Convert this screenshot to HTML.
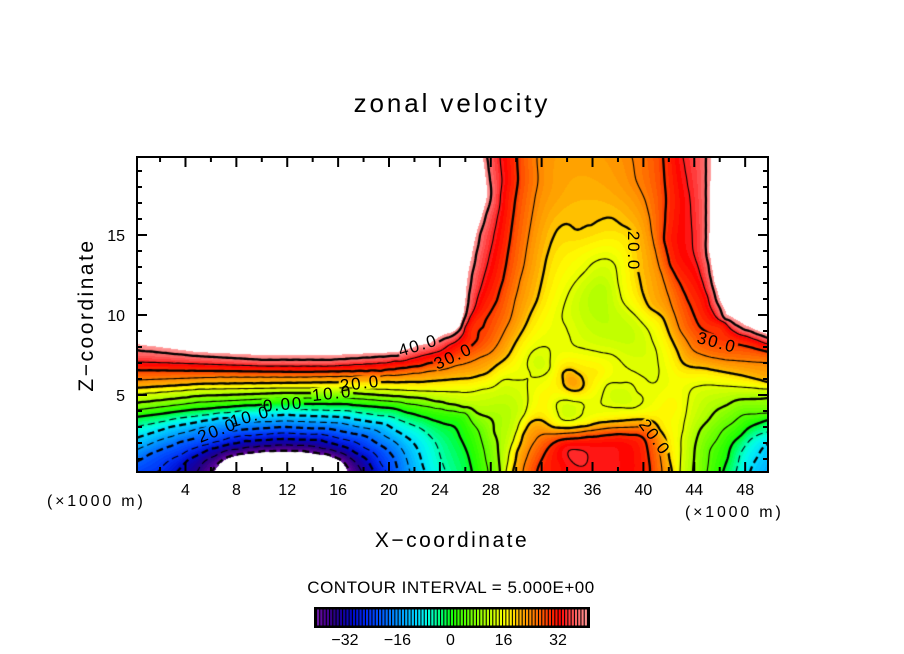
<!DOCTYPE html>
<html><head><meta charset="utf-8">
<style>
html,body{margin:0;padding:0;background:#fff;}
body{width:904px;height:654px;position:relative;overflow:hidden;}
#c{position:absolute;left:137px;top:157px;}
svg{position:absolute;left:0;top:0;}
text{font-family:"Liberation Sans",sans-serif;fill:#000;}
</style></head><body>
<canvas id="c" width="631" height="315"></canvas>
<svg id="s" width="904" height="654" viewBox="0 0 904 654">
<g id="cb"></g>
<rect x="137" y="157" width="631" height="315" fill="none" stroke="#000" stroke-width="2"/>
<path id="ticks" d="" stroke="#000" stroke-width="2" fill="none"/>
<text x="452" y="112" font-size="26" text-anchor="middle" letter-spacing="2.9">zonal velocity</text>
<text x="452" y="547" font-size="21" text-anchor="middle" letter-spacing="2.5">X−coordinate</text>
<text transform="translate(93,315) rotate(-90)" font-size="21" text-anchor="middle" letter-spacing="2.5">Z−coordinate</text>
<g font-size="16" text-anchor="middle">
<text x="185.5" y="495">4</text><text x="236.4" y="495">8</text><text x="287.2" y="495">12</text>
<text x="338.1" y="495">16</text><text x="389" y="495">20</text><text x="439.9" y="495">24</text>
<text x="490.8" y="495">28</text><text x="541.6" y="495">32</text><text x="592.5" y="495">36</text>
<text x="643.4" y="495">40</text><text x="694.3" y="495">44</text><text x="745.2" y="495">48</text>
</g>
<g font-size="16" text-anchor="end">
<text x="125" y="401">5</text><text x="125" y="321">10</text><text x="125" y="241">15</text>
</g>
<text x="47" y="506" font-size="16" letter-spacing="2.8">(×1000 m)</text>
<text x="685" y="517" font-size="16" letter-spacing="2.8">(×1000 m)</text>
<text x="451" y="593" font-size="17" text-anchor="middle" letter-spacing="0.5">CONTOUR INTERVAL = 5.000E+00</text>
<g font-size="16" text-anchor="middle">
<text x="345" y="645">−32</text><text x="397.5" y="645">−16</text><text x="450.5" y="645">0</text>
<text x="503.5" y="645">16</text><text x="558" y="645">32</text>
</g>
<g font-size="17" text-anchor="middle" letter-spacing="1.8" id="labels">
<text transform="translate(418,345) rotate(-17)" dy="6">40.0</text>
<text transform="translate(453,356) rotate(-25)" dy="6">30.0</text>
<text transform="translate(360,383) rotate(-7)" dy="6">20.0</text>
<text transform="translate(332,393) rotate(-6)" dy="6">10.0</text>
<text transform="translate(283,404) rotate(-5)" dy="6">0.00</text>
<text transform="translate(250,416) rotate(-16)" dy="6">10.0</text>
<text transform="translate(217,430) rotate(-21)" dy="6">20.0</text>
<text transform="translate(634,251) rotate(90)" dy="6">20.0</text>
<text transform="translate(717,342) rotate(15)" dy="6">30.0</text>
<text transform="translate(655,437) rotate(53)" dy="6">20.0</text>
</g>
</svg>
<script>
(function(){
var LINES=[
[42.5,[[136,344],[197,352],[263,355],[330,355],[397,352],[430,343],[445,334],[460,325],[464,310],[466,295],[468,275],[472,255],[476,235],[482,215],[487,195],[486,180],[483,157]]],
[40,[[136,350],[197,356],[263,360],[330,360],[397,356],[417,349],[432,345],[450,337],[461,328],[466,315],[469,295],[472,275],[476,255],[480,235],[486,215],[491,197],[490,180],[487,157]]],
[35,[[136,362],[200,364],[263,366],[330,366],[380,363],[410,359],[440,351],[460,338],[470,317],[477,300],[483,280],[488,262],[493,240],[499,210],[502,180],[500,157]]],
[30,[[136,370],[220,371],[300,372],[380,371],[420,366],[450,358],[470,347],[477,340],[490,313],[497,300],[503,280],[506,265],[510,240],[514,210],[518,180],[517,157]]],
[25,[[136,380],[220,377],[300,377],[400,375],[440,370],[470,362],[490,353],[500,340],[510,320],[515,300],[520,280],[524,265],[528,240],[533,210],[538,180],[537,157]]],
[20,[[136,388],[200,384],[282,383],[360,382],[420,382],[470,378],[487,373],[507,357],[523,330],[537,300],[542,280],[546,260],[551,243],[557,230],[565,224],[577,230],[587,217],[592,225],[600,220],[612,218],[622,225],[632,232],[636,250],[638,270],[642,290],[650,308],[663,318],[672,340],[683,363],[703,368],[740,375],[768,382]]],
[15,[[136,394],[200,389],[282,388],[350,388],[420,391],[470,392],[493,387],[503,380],[513,380],[523,380],[527,378],[528,400],[524,415],[517,430],[510,450],[506,472]]],
[10,[[136,403],[200,396],[282,393],[350,393],[420,398],[463,407],[490,418],[494,432],[498,450],[500,472]]],
[5,[[136,410],[200,402],[282,398],[350,398],[400,402],[430,407],[465,413],[478,430],[484,450],[488,472]]],
[0,[[136,417],[190,410],[240,406],[283,404],[340,404],[390,408],[420,416],[445,424],[460,437],[468,455],[472,472]]],
[-5,[[136,427],[180,418],[240,411],[290,409],[350,411],[395,418],[420,428],[435,442],[446,472]]],
[-10,[[136,438],[170,427],[220,418],[282,415],[340,417],[385,424],[405,436],[418,450],[425,472]]],
[-15,[[136,450],[160,440],[200,428],[250,422],[290,421],[340,423],[375,430],[395,442],[405,455],[410,472]]],
[-20,[[136,462],[150,454],[180,442],[225,431],[282,427],[330,429],[365,436],[385,448],[395,460],[398,472]]],
[-25,[[157,472],[170,460],[195,448],[235,437],[282,433],[325,435],[355,442],[375,454],[386,472]]],
[-30,[[177,472],[188,460],[210,449],[245,441],[282,439],[320,440],[345,447],[365,458],[374,472]]],
[-35,[[197,472],[205,461],[225,451],[255,447],[282,445],[310,446],[335,451],[353,460],[362,472]]],
[-41,[[214,472],[222,462],[240,455],[265,452],[300,452],[325,455],[340,461],[348,472]]],
[20,[[513,472],[517,452],[523,435],[530,423],[543,421],[553,427],[570,428],[587,426],[607,422],[630,420],[647,420],[660,430],[667,447],[672,472]]],
[25,[[523,472],[527,457],[535,441],[545,434],[553,434],[570,433],[587,431],[610,428],[635,427],[648,428],[656,438],[660,455],[662,472]]],
[30,[[537,472],[543,457],[550,446],[560,440],[587,437],[620,434],[637,435],[647,447],[649,460],[650,472]]],
[15,[[768,389],[740,387],[710,385],[693,388],[687,407],[683,430],[681,450],[680,472]]],
[10,[[768,398],[737,400],[717,410],[700,430],[695,447],[693,472]]],
[5,[[768,413],[743,415],[723,430],[710,450],[707,472]]],
[0,[[768,420],[750,427],[733,443],[723,472]]],
[-5,[[768,432],[750,440],[740,455],[736,472]]],
[-10,[[768,444],[758,456],[750,472]]],
[25,[[632,157],[636,180],[645,200],[650,220],[653,240],[658,262],[665,285],[673,310],[680,330],[693,350],[710,357],[727,360],[768,363]]],
[30,[[663,157],[666,200],[664,240],[670,265],[683,290],[692,310],[700,327],[720,340],[745,346],[768,352]]],
[35,[[683,157],[690,200],[693,250],[703,283],[713,312],[735,332],[768,344]]],
[40,[[706,157],[706,200],[706,250],[711,280],[716,300],[725,319],[745,330],[768,338]]],
[42.5,[[711,157],[710,200],[709,250],[714,280],[720,300],[730,316],[750,327],[768,334]]],
[15,[[593,263],[607,259],[615,265],[618,283],[622,300],[635,315],[648,330],[656,350],[659,370],[656,382],[645,378],[625,366],[613,355],[590,350],[575,346],[570,337],[562,317],[567,297],[577,280],[593,263]]],
[15,[[532,352],[538,348],[550,362],[550,368],[530,372],[532,352]]],
[20,[[563,373],[577,373],[583,380],[580,390],[570,390],[563,380],[563,373]]],
[15,[[557,403],[567,400],[580,402],[583,410],[573,420],[563,420],[558,413],[557,403]]],
[15,[[602,397],[607,385],[620,383],[637,392],[642,403],[633,408],[610,407],[602,397]]],
[11.5,[[603,290]]],[12.5,[[628,335]]],[13.5,[[538,363]]],[23,[[572,381]]],[13.5,[[570,410]]],[13,[[622,397]]],
[34,[[568,446]]],[34.5,[[595,458]]],[33.5,[[625,455]]],[33,[[560,465]]],
[17.5,[[545,398]]],[18,[[598,372]]],[17.5,[[688,376]]],[17.5,[[673,405]]],
[22.5,[[585,160]]],[21,[[585,200]]],[22.5,[[555,195]]],[22,[[615,195]]],
[60,[[300,250],[200,220],[400,230],[150,170],[450,175],[300,180]]],
[52,[[300,322],[180,318],[420,305]]],[48,[[462,160]]],
[55,[[740,200],[760,170]]],[52,[[745,280]]],[49,[[758,312]]],[50,[[725,165]]],
[-55,[[282,472]]],[-50,[[250,470],[315,470]]],[-23,[[136,472]]],[-14,[[768,472]]]
];
var P=[];
function add(x,y,v){for(var i=0;i<P.length;i++){var dx=P[i][0]-x,dy=P[i][1]-y;if(dx*dx+dy*dy<6.25)return;}P.push([x,y,v]);}
LINES.forEach(function(L){var v=L[0],a=L[1];
 if(a.length===1){add(a[0][0],a[0][1],v);return;}
 for(var i=0;i<a.length-1;i++){var x0=a[i][0],y0=a[i][1],x1=a[i+1][0],y1=a[i+1][1];
  var d=Math.hypot(x1-x0,y1-y0),n=Math.max(1,Math.round(d/14));
  for(var k=0;k<n;k++){var t=k/n;add(x0+(x1-x0)*t,y0+(y1-y0)*t,v);}}
 var e=a[a.length-1];add(e[0],e[1],v);});
LINES.forEach(function(L){if(L[1].length>1&&(L[0]>=48||L[0]<=-50)){L[1].forEach(function(p){add(p[0],p[1],L[0]);});}});
var N=P.length,M=N+3,S=0.01,CX=452,CY=315,LAM=1e-4;
var X=new Float64Array(N),Y=new Float64Array(N);
for(var i=0;i<N;i++){X[i]=(P[i][0]-CX)*S;Y[i]=(P[i][1]-CY)*S;}
var A=new Float64Array(M*M),B=new Float64Array(M);
for(i=0;i<N;i++){
 for(var j=i;j<N;j++){var dx=X[i]-X[j],dy=Y[i]-Y[j],d2=dx*dx+dy*dy;var kk=d2>0?0.5*d2*Math.log(d2):0;A[i*M+j]=kk;A[j*M+i]=kk;}
 A[i*M+i]+=LAM;A[i*M+N]=1;A[i*M+N+1]=X[i];A[i*M+N+2]=Y[i];
 A[N*M+i]=1;A[(N+1)*M+i]=X[i];A[(N+2)*M+i]=Y[i];B[i]=P[i][2];}
for(var c=0;c<M;c++){
 var piv=c,mx=Math.abs(A[c*M+c]);
 for(var r=c+1;r<M;r++){var av=Math.abs(A[r*M+c]);if(av>mx){mx=av;piv=r;}}
 if(piv!==c){for(var k=0;k<M;k++){var tt=A[c*M+k];A[c*M+k]=A[piv*M+k];A[piv*M+k]=tt;}var tb=B[c];B[c]=B[piv];B[piv]=tb;}
 var dd=A[c*M+c];if(Math.abs(dd)<1e-14)continue;
 for(r=c+1;r<M;r++){var f=A[r*M+c]/dd;if(f===0)continue;var ro=r*M,co=c*M;for(k=c;k<M;k++)A[ro+k]-=f*A[co+k];B[r]-=f*B[c];}}
var Wt=new Float64Array(M);
for(r=M-1;r>=0;r--){var s=B[r];for(k=r+1;k<M;k++)s-=A[r*M+k]*Wt[k];Wt[r]=A[r*M+r]!==0?s/A[r*M+r]:0;}
var NX=317,NY=159,G=new Float64Array(NX*NY);
for(j=0;j<NY;j++){var y=(157+2*j-CY)*S;for(i=0;i<NX;i++){var x=(137+2*i-CX)*S;var fv=Wt[N]+Wt[N+1]*x+Wt[N+2]*y;
 for(k=0;k<N;k++){var ex=x-X[k],ey=y-Y[k],e2=ex*ex+ey*ey;if(e2>1e-12)fv+=Wt[k]*0.5*e2*Math.log(e2);}G[j*NX+i]=fv;}}
var CM=[[-41,112,30,165],[-39,85,0,150],[-36,45,0,130],[-33,20,0,160],[-30,0,10,200],[-26,0,40,240],[-22,0,80,255],[-18,0,125,255],[-14,0,170,255],[-10,0,220,255],[-7,0,255,230],[-4,0,255,150],[-1,0,255,60],[1,30,255,0],[5,90,255,0],[10,160,255,0],[14,215,255,0],[17,255,255,0],[19,255,228,0],[21,255,180,0],[24,255,145,0],[28,255,90,0],[31,255,40,0],[33.5,255,5,0],[35.5,255,40,40],[38,255,90,90],[41,255,135,135],[42.5,255,160,160]];
function cmap(v){if(v<=CM[0][0])return CM[0].slice(1);for(var q=1;q<CM.length;q++){if(v<=CM[q][0]){var a=CM[q-1],b=CM[q],t=(v-a[0])/(b[0]-a[0]);return [a[1]+(b[1]-a[1])*t,a[2]+(b[2]-a[2])*t,a[3]+(b[3]-a[3])*t];}}return CM[CM.length-1].slice(1);}
var LUT=[];for(var l=0;l<84;l++)LUT.push(cmap(-41+l+0.5));
var cv=document.getElementById('c'),ctx=cv.getContext('2d'),Wc=631,Hc=315;
var img=ctx.createImageData(Wc,Hc),D=img.data;
for(var py=0;py<Hc;py++){var gy=(py+0.5)/2,j0=Math.floor(gy),fy=gy-j0;if(j0>=NY-1){j0=NY-2;fy=1;}
 for(var px=0;px<Wc;px++){var gx=(px+0.5)/2,i0=Math.floor(gx),fx=gx-i0;if(i0>=NX-1){i0=NX-2;fx=1;}
  var v=(G[j0*NX+i0]*(1-fx)+G[j0*NX+i0+1]*fx)*(1-fy)+(G[(j0+1)*NX+i0]*(1-fx)+G[(j0+1)*NX+i0+1]*fx)*fy;
  var o=(py*Wc+px)*4,col;
  if(v>42.5||v<-41)col=[255,255,255];else{var li=Math.floor(v)+41;if(li<0)li=0;if(li>83)li=83;col=LUT[li];}
  D[o]=col[0];D[o+1]=col[1];D[o+2]=col[2];D[o+3]=255;}}
ctx.putImageData(img,0,0);
var LAB=[[418,345,-17],[453,356,-25],[360,383,-7],[332,393,-6],[283,404,-5],[250,416,-16],[217,430,-21],[634,251,90],[717,342,15],[655,437,53]];
ctx.save();ctx.beginPath();ctx.rect(0,0,Wc,Hc);
LAB.forEach(function(b){var a=b[2]*Math.PI/180,cs=Math.cos(a),sn=Math.sin(a),hw=21,hh=7;
 var pts=[[-hw,-hh],[hw,-hh],[hw,hh],[-hw,hh]].map(function(p){return [b[0]-137+p[0]*cs-p[1]*sn,b[1]-157+p[0]*sn+p[1]*cs];});
 ctx.moveTo(pts[0][0],pts[0][1]);for(var q=1;q<4;q++)ctx.lineTo(pts[q][0],pts[q][1]);ctx.closePath();});
ctx.clip('evenodd');
ctx.strokeStyle='#000';ctx.lineJoin='round';ctx.lineCap='butt';
for(var lev=-40;lev<=40;lev+=5){
 var L2=lev+1e-7,segs=[];
 for(j=0;j<NY-1;j++)for(i=0;i<NX-1;i++){
  var a=G[j*NX+i]-L2,b=G[j*NX+i+1]-L2,cc=G[(j+1)*NX+i+1]-L2,d=G[(j+1)*NX+i]-L2,e=[],t;
  if((a>0)!==(b>0)){t=a/(a-b);e.push([(j*NX+i)*2,2*(i+t),2*j]);}
  if((b>0)!==(cc>0)){t=b/(b-cc);e.push([(j*NX+i+1)*2+1,2*(i+1),2*(j+t)]);}
  if((cc>0)!==(d>0)){t=cc/(cc-d);e.push([((j+1)*NX+i)*2,2*(i+1-t),2*(j+1)]);}
  if((d>0)!==(a>0)){t=d/(d-a);e.push([(j*NX+i)*2+1,2*i,2*(j+1-t)]);}
  if(e.length===2)segs.push([e[0],e[1]]);else if(e.length===4){segs.push([e[0],e[1]]);segs.push([e[2],e[3]]);}}
 var map=new Map();
 segs.forEach(function(sg,idx){sg.forEach(function(p){var m=map.get(p[0]);if(!m){m=[];map.set(p[0],m);}m.push(idx);});});
 var used=new Uint8Array(segs.length);
 var ext=function(line){while(true){var last=line[line.length-1],cand=map.get(last[0]),fd=-1;
   for(var q=0;q<cand.length;q++)if(!used[cand[q]]){fd=cand[q];break;}
   if(fd<0)break;used[fd]=1;var sg=segs[fd];line.push(sg[0][0]===last[0]?sg[1]:sg[0]);}};
 ctx.lineWidth=(lev%10===0)?2.3:1.1;ctx.setLineDash(lev<0?[7,4]:[]);
 for(var s0=0;s0<segs.length;s0++){if(used[s0])continue;used[s0]=1;
  var line=[segs[s0][0],segs[s0][1]];ext(line);line.reverse();ext(line);
  ctx.beginPath();ctx.moveTo(line[0][1],line[0][2]);for(var q=1;q<line.length;q++)ctx.lineTo(line[q][1],line[q][2]);ctx.stroke();}}
ctx.restore();
var ns='http://www.w3.org/2000/svg',cb=document.getElementById('cb');
function R(x,y,w,h,fill,st){var el=document.createElementNS(ns,'rect');el.setAttribute('x',x);el.setAttribute('y',y);el.setAttribute('width',w);el.setAttribute('height',h);el.setAttribute('fill',fill);if(st){el.setAttribute('stroke','#000');el.setAttribute('stroke-width','2');}cb.appendChild(el);}
R(315,608,274,19,'#000',true);
for(k=0;k<83;k++){var cl=cmap(-41+k+0.5);R((317+k*3.265).toFixed(2),609.5,2.2,16,'rgb('+Math.round(cl[0])+','+Math.round(cl[1])+','+Math.round(cl[2])+')',false);}
var dp='';
for(var XX=2;XX<=48;XX+=2){var xx=(134.6+12.72*XX).toFixed(2),TL=(XX%4===0)?10:5;dp+='M'+xx+' 472V'+(472-TL)+'M'+xx+' 157V'+(157+TL);}
for(var z=1;z<=19;z++){var yy=475-16*z,TL2=(z%5===0)?10:5;dp+='M137 '+yy+'H'+(137+TL2)+'M768 '+yy+'H'+(768-TL2);}
document.getElementById('ticks').setAttribute('d',dp);
})();
</script>
</body></html>
